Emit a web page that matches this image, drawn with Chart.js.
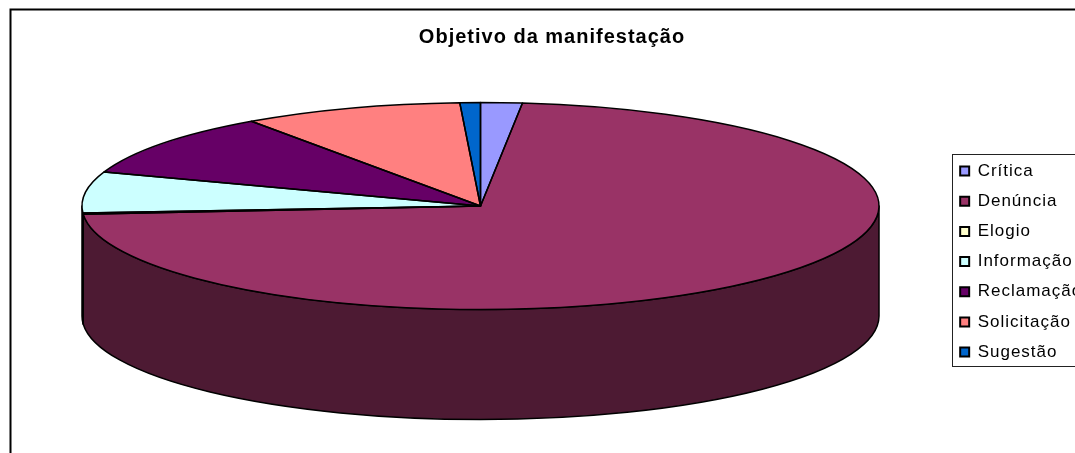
<!DOCTYPE html>
<html>
<head>
<meta charset="utf-8">
<style>html,body{margin:0;padding:0;background:#fff;overflow:hidden}canvas{display:block}</style>
<script src="https://cdn.jsdelivr.net/npm/chart.js@4"></script>
</head>
<body>
<canvas id="c" width="1075" height="453" style="width:1075px;height:453px"></canvas>
<script>
const titleText = 'Objetivo da manifestação';
const categories = ['Crítica','Denúncia','Elogio','Informação','Reclamação','Solicitação','Sugestão'];
const shares = [1.68,72.07,0.17,6.42,9.92,8.92,0.83];
const sliceColors = ['#9999FF','#993366','#FFFFCC','#CCFFFF','#660066','#FF8080','#0066CC'];
const wallColors = ['#4D4D80','#4D1A33','#808066','#668080','#330033','#804040','#003366'];

const plotBox = {left:82, top:102.5, right:879, bottom:309.5};
const wallDepth = 110;
const legendFrame = {x:952.5, y:154.5, w:200, h:212};
const outerFrame = {x:10.5, y:9.5, w:1200, h:600};

function geometry(chart){
  const a = chart.chartArea, arc = chart.getDatasetMeta(0).data[0];
  return {cx:arc.x, cy:arc.y, rx:a.width/2, ry:a.height/2, sx:a.width/a.height};
}

const pie3d = {
  id:'pie3d',
  afterLayout(chart){
    const a = chart.chartArea;
    Object.assign(a, plotBox);
    a.width = a.right-a.left; a.height = a.bottom-a.top;
    const t = chart.titleBlock;
    t.left = 10; t.right = 1094; t.top = 25; t.bottom = 52; t.width = 1084;
    const l = chart.legend;
    l.left = 947; l.right = 1150; l.top = 149.4; l.bottom = 381; l.width = 203; l.height = 231.6;
  },
  beforeDraw(chart){
    const c = chart.ctx;
    c.letterSpacing = '1px';
    c.save();
    c.strokeStyle = '#000'; c.lineWidth = 2;
    c.strokeRect(outerFrame.x, outerFrame.y, outerFrame.w, outerFrame.h);
    c.lineWidth = 1; c.strokeStyle = '#222';
    c.strokeRect(legendFrame.x, legendFrame.y, legendFrame.w, legendFrame.h);
    c.restore();
  },
  beforeDatasetsDraw(chart){
    const c = chart.ctx, g = geometry(chart);
    c.save();
    c.lineWidth = 1.5; c.strokeStyle = '#000'; c.lineJoin = 'round';
    chart.getDatasetMeta(0).data.forEach((arc,i)=>{
      const two = Math.PI*2;
      for (const shift of [0,two]) {
        const s = Math.max(arc.startAngle+shift,0), e = Math.min(arc.endAngle+shift,Math.PI);
        if (e<=s) continue;
        c.beginPath();
        c.moveTo(g.cx+g.rx*Math.cos(s), g.cy+g.ry*Math.sin(s));
        c.lineTo(g.cx+g.rx*Math.cos(s), g.cy+g.ry*Math.sin(s)+wallDepth);
        c.ellipse(g.cx,g.cy+wallDepth,g.rx,g.ry,0,s,e,false);
        c.lineTo(g.cx+g.rx*Math.cos(e), g.cy+g.ry*Math.sin(e));
        c.ellipse(g.cx,g.cy,g.rx,g.ry,0,e,s,true);
        c.closePath();
        c.fillStyle = wallColors[i];
        c.fill(); c.stroke();
      }
    });
    c.restore();
  },
  beforeDatasetDraw(chart){
    const c = chart.ctx, g = geometry(chart);
    c.save();
    c.translate(g.cx,g.cy); c.scale(g.sx,1); c.translate(-g.cx,-g.cy);
  },
  afterDatasetDraw(chart){
    chart.ctx.restore();
  },
  afterDatasetsDraw(chart){
    const c = chart.ctx, g = geometry(chart);
    c.save();
    c.lineWidth = 1.5; c.strokeStyle = '#000'; c.lineJoin = 'round';
    chart.getDatasetMeta(0).data.forEach(arc=>{
      c.beginPath();
      c.moveTo(g.cx,g.cy);
      c.ellipse(g.cx,g.cy,g.rx,g.ry,0,arc.startAngle,arc.endAngle,false);
      c.closePath();
      c.stroke();
    });
    c.restore();
  }
};

new Chart(document.getElementById('c'),{
  type:'pie',
  data:{labels:categories,datasets:[{data:shares,backgroundColor:sliceColors,borderWidth:0,clip:false}]},
  plugins:[pie3d],
  options:{
    responsive:false,
    animation:false,
    devicePixelRatio:1,
    rotation:0,
    plugins:{
      tooltip:{enabled:false},
      title:{display:true,text:titleText,color:'#000',
        font:{family:'"Liberation Sans",Arial,sans-serif',size:20,weight:'bold'},padding:{top:0,bottom:0}},
      legend:{
        display:true,position:'right',align:'start',
        labels:{
          color:'#000',
          font:{family:'"Liberation Sans",Arial,sans-serif',size:17},
          boxWidth:9,boxHeight:9,padding:13.17,
          generateLabels(chart){
            return Chart.overrides.pie.plugins.legend.labels.generateLabels(chart)
              .map(it=>Object.assign(it,{strokeStyle:'#000',lineWidth:2}));
          }
        }
      }
    }
  }
});
</script>
</body>
</html>
